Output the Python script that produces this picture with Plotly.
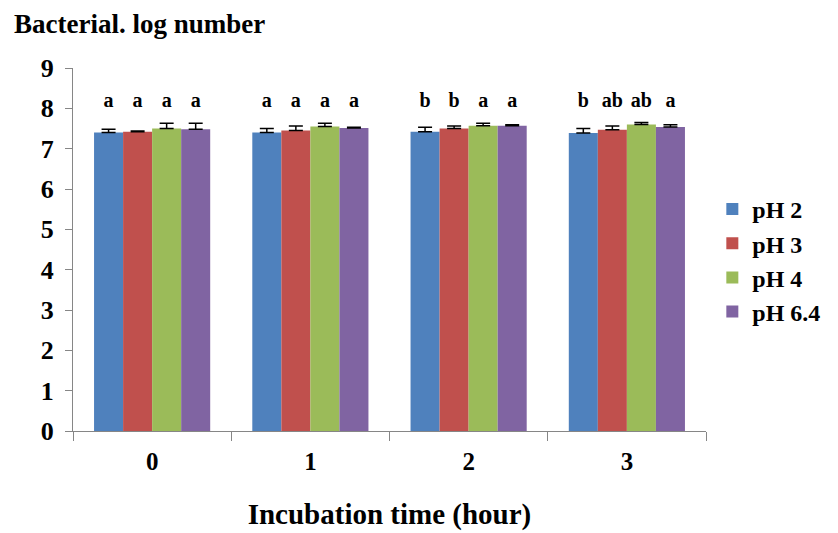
import plotly.graph_objects as go

categories = ["0", "1", "2", "3"]
series_names = ["pH 2", "pH 3", "pH 4", "pH 6.4"]
values = {
    "pH 2":   [7.40, 7.40, 7.42, 7.39],
    "pH 3":   [7.42, 7.45, 7.50, 7.47],
    "pH 4":   [7.50, 7.55, 7.57, 7.60],
    "pH 6.4": [7.48, 7.51, 7.57, 7.54],
}
errors = {
    "pH 2":   [0.08, 0.10, 0.11, 0.11],
    "pH 3":   [0.02, 0.11, 0.06, 0.09],
    "pH 4":   [0.13, 0.08, 0.06, 0.05],
    "pH 6.4": [0.15, 0.02, 0.02, 0.05],
}
letters = {
    "pH 2":   ["a", "a", "b", "b"],
    "pH 3":   ["a", "a", "b", "ab"],
    "pH 4":   ["a", "a", "a", "ab"],
    "pH 6.4": ["a", "a", "a", "a"],
}
letter_level = 8.15
colors = ["#4F81BD", "#C0504D", "#9BBB59", "#8064A2"]

FONT = "Liberation Serif"
fig = go.Figure()
for i, name in enumerate(series_names):
    fig.add_trace(go.Bar(
        x=categories, y=values[name], name="<b>" + name + "</b>",
        marker=dict(color=colors[i], line=dict(width=0)),
        error_y=dict(type="data", array=errors[name], arrayminus=[0]*4,
                     symmetric=False, color="black", thickness=1.5, width=7),
        legendgroup=name, offsetgroup=name,
    ))
for i, name in enumerate(series_names):
    fig.add_trace(go.Scatter(
        x=categories, y=[letter_level]*4, mode="text",
        text=["<b>" + t + "</b>" for t in letters[name]],
        textfont=dict(family=FONT, size=20, color="black"),
        textposition="middle center",
        showlegend=False, hoverinfo="skip", offsetgroup=name,
    ))

fig.update_layout(
    width=838, height=533,
    paper_bgcolor="white", plot_bgcolor="white",
    margin=dict(l=73, r=130, t=68, b=102),
    barmode="group", bargap=0.266, bargroupgap=0,
    scattermode="group", scattergap=0.266,
    font=dict(family=FONT, color="black"),
    showlegend=True,
    legend=dict(x=1.01, y=0.47, xanchor="left", yanchor="middle",
                font=dict(family=FONT, size=24, color="black"),
                tracegroupgap=3, itemwidth=30, traceorder="normal"),
    xaxis=dict(
        type="category", tickson="boundaries", ticks="outside", ticklen=9,
        tickcolor="#868686", showline=True, linecolor="#868686", linewidth=1,
        tickfont=dict(family=FONT, size=25, color="black"),
        ticklabelstandoff=8, automargin=False,
        tickprefix="<b>", ticksuffix="</b>",
        showgrid=False, zeroline=False,
        title=dict(text="<b>Incubation time (hour)</b>", standoff=29,
                   font=dict(family=FONT, size=29, color="black")),
    ),
    yaxis=dict(
        range=[0, 9], dtick=1, ticks="outside", ticklen=7, tickcolor="#868686",
        showline=True, linecolor="#868686", linewidth=1,
        tickfont=dict(family=FONT, size=26, color="black"),
        ticklabelstandoff=6, automargin=False,
        tickprefix="<b>", ticksuffix="</b>",
        showgrid=False, zeroline=False,
    ),
    annotations=[dict(
        text="<b>Bacterial. log number</b>", xref="paper", yref="paper",
        x=-0.097, y=1.122, xanchor="left", yanchor="middle", showarrow=False,
        font=dict(family=FONT, size=27, color="black"),
    )],
)
fig.write_html("out.html")
